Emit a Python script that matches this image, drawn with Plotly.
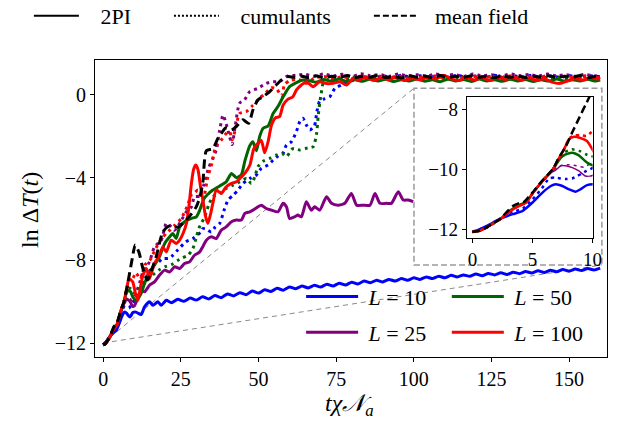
import plotly.graph_objects as go

# ---------------- data ----------------
# mean field (black dashed)
mf = [(0,-12.08),(0.6,-12.04),(1.2,-11.93),(1.7,-11.8),(2.3,-11.65),(2.9,-11.4),(3.4,-11.21),(3.9,-11.12),(4.3,-11.08),(5.0,-10.77),
      (5.8,-10.38),(6.7,-9.99),(7.2,-9.61),(7.8,-9.22),(8.3,-8.78),(8.9,-8.28),(9.4,-7.87),(10.3,-7.25),(11.5,-7.6),(12.8,-8.4),
      (14.2,-8.95),(15.5,-8.5),(17.0,-7.85),(19.2,-6.62),(21.0,-6.35),(22.4,-6.3),(24.0,-6.4),(25.7,-6.2),(27.0,-6.0),(28.4,-5.75),
      (30.0,-5.4),(31.2,-4.9),(32.1,-4.2),(33.2,-2.7),(35.3,-2.6),(36.9,-2.1),(38.0,-1.86),(39.4,-1.6),(41.3,-1.69),(42.8,-1.53),
      (45.0,-1.2),(46.8,-1.37),(48.2,-0.73),(49.8,-0.24),(51.5,-0.08),(53.6,0.16),(55.5,0.45),(57.4,0.73),(59.5,0.89),(61.5,0.85),
      (63.5,0.92),(66,0.84),(68.5,0.93),(71,0.82),(73.5,0.9),(76,0.85),(78.5,0.94),(81,0.83),(83.5,0.91),(86,0.86),(88.5,0.95),
      (91,0.84),(93.5,0.9),(96,0.82),(98.5,0.93),(101,0.86),(103.5,0.92),(106,0.83),(108.5,0.94),(111,0.85),(113.5,0.9),(116,0.84),
      (118.5,0.93),(121,0.86),(123.5,0.91),(126,0.83),(128.5,0.94),(131,0.85),(133.5,0.92),(136,0.84),(138.5,0.9),(141,0.86),
      (143.5,0.93),(146,0.84),(148.5,0.91),(151,0.85),(153.5,0.94),(156,0.83),(158.5,0.9),(160,0.87)]

# 2PI, L = 100 (red solid)
pi_100 = [(0,-12.08),(0.6,-12.04),(1.2,-11.93),(1.7,-11.8),(2.3,-11.66),(3.0,-11.43),(3.5,-11.3),(4.0,-11.2),(4.5,-11.1),(5.0,-10.8),
          (5.8,-10.4),(6.7,-10.0),(7.2,-9.63),(7.63,-9.33),(8.04,-9.0),(8.46,-8.91),(9.0,-8.95),(9.55,-9.05),(10.4,-9.6),(11.2,-9.93),
          (12.0,-9.3),(12.8,-8.72),(13.9,-8.39),(14.9,-8.88),(16.5,-8.15),(18.1,-7.75),(19.2,-7.35),(20.3,-7.59),(21.9,-7.02),(23.5,-7.18),
          (24.6,-7.02),(25.7,-6.7),(26.8,-6.21),(27.5,-5.5),(28.4,-4.28),(29.1,-3.6),(29.8,-3.39),(30.5,-3.6),(31.3,-4.4),(32.1,-5.08),
          (33.0,-5.9),(33.7,-6.21),(34.5,-5.8),(35.3,-5.24),(36.4,-4.6),(38.0,-4.76),(39.6,-4.44),(41.3,-4.28),(42.9,-4.2),(44.5,-3.96),
          (45.6,-3.79),(47.2,-3.4),(48.5,-2.6),(49.8,-2.34),(50.9,-2.2),(52.0,-2.8),(53.1,-2.25),(54.2,-1.45),(55.5,-1.1),(56.8,-1.05),
          (57.9,-0.5),(59.5,-0.2),(61.0,-0.1),(62.2,0.24),(63.8,0.48),(65.4,0.64),(67.6,0.4),(69.7,0.64),(71.9,0.55),(74.0,0.56),
          (76.2,0.64),(78.3,0.48),(80.5,0.81),(82,0.72),(84.5,0.85),(87,0.7),(89.5,0.82),(92,0.74),(94.5,0.86),(97,0.7),(99.5,0.8),
          (102,0.73),(104.5,0.86),(107,0.76),(109.5,0.95),(112,0.78),(114.5,0.7),(117,0.84),(119.5,0.72),(122,0.83),(124.5,0.7),
          (127,0.84),(129.5,0.75),(132,0.86),(134.5,0.72),(137,0.82),(139.5,0.7),(142,0.78),(144.5,0.62),(147,0.56),(149.5,0.68),
          (152,0.8),(154.5,0.72),(157,0.82),(160,0.76)]

# cumulants, L = 100 (red dotted)
cu_100 = [(0,-12.08),(1.2,-11.93),(2.3,-11.65),(3.0,-11.42),(3.5,-11.28),(4.0,-11.18),(4.5,-11.08),(5.0,-10.8),(5.8,-10.4),(6.7,-10.0),
          (7.2,-9.62),(7.7,-9.28),(8.1,-8.95),(8.5,-8.87),(9.0,-8.85),(9.5,-8.88),(10.5,-8.6),(12.0,-8.9),(13.5,-8.2),(15.0,-8.0),
          (17.0,-7.4),(19.0,-6.9),(21.0,-6.6),(23.0,-6.3),(25.0,-6.0),(27.0,-5.4),(28.5,-4.8),(29.4,-4.73),(30.5,-4.6),(32.1,-5.08),
          (33.7,-3.96),(35.0,-3.3),(35.9,-2.66),(36.9,-2.34),(38.0,-2.18),(39.6,-1.86),(40.7,-1.77),(41.5,-2.18),(42.8,-1.5),(43.9,-0.9),
          (46.1,-0.8),(48.2,-0.5),(50.4,-0.15),(52.0,0.05),(54.2,0.35),(55.8,0.3),(57.4,-0.05),(58.4,0.5),(60.0,0.7),(62.0,0.75),
          (63.3,0.73),(65.4,0.56),(68,0.82),(71,0.9),(74,0.78),(77,0.88),(80,0.8),(83,0.92),(86,0.8),(89,0.9),(92,0.82),(95,0.93),
          (98,0.8),(101,0.88),(104,0.82),(107,0.92),(110,0.8),(113,0.9),(116,0.83),(119,0.93),(122,0.8),(125,0.9),(128,0.82),
          (131,0.92),(134,0.8),(137,0.89),(140,0.82),(143,0.93),(146,0.8),(149,0.9),(152,0.83),(155,0.92),(158,0.81),(160,0.88)]

# 2PI, L = 50 (green solid)
pi_50 = [(0,-12.08),(0.6,-12.04),(1.2,-11.93),(1.7,-11.8),(2.3,-11.66),(3.0,-11.42),(3.5,-11.27),(4.0,-11.17),(4.5,-11.08),(5.0,-10.8),
         (5.8,-10.4),(6.7,-10.0),(7.36,-9.61),(7.77,-9.5),(8.32,-9.44),(8.87,-9.53),(9.55,-9.77),(10.6,-9.93),(12.2,-9.6),(13.3,-9.12),
         (14.9,-8.56),(16.5,-8.23),(18.1,-7.83),(19.8,-7.18),(21.4,-6.86),(22.4,-6.7),(23.5,-6.94),(24.6,-6.38),(26.2,-6.13),(28.4,-5.97),
         (30.0,-5.89),(31.0,-5.6),(32.5,-5.0),(33.7,-4.8),(35.3,-4.6),(37.5,-4.4),(39.6,-4.2),(41.3,-3.8),(42.9,-4.0),(44.5,-3.85),
         (45.6,-3.2),(47.2,-2.45),(48.2,-2.26),(49.3,-2.7),(50.4,-2.0),(51.5,-1.61),(53.1,-1.5),(54.7,-0.9),(56.3,-0.55),(57.9,-0.1),
         (60.0,0.4),(62.2,0.6),(64.3,0.72),(66,0.7),(68.5,0.62),(71,0.75),(73.5,0.66),(76,0.77),(78.5,0.65),(81,0.74),(83.5,0.66),
         (86,0.77),(88.5,0.68),(91,0.76),(93.5,0.65),(96,0.74),(98.5,0.67),(101,0.77),(103.5,0.66),(106,0.73),(108.5,0.64),(111,0.76),
         (113.5,0.68),(116,0.75),(118.5,0.65),(121,0.77),(123.5,0.67),(126,0.74),(128.5,0.66),(131,0.76),(133.5,0.68),(136,0.75),
         (138.5,0.65),(141,0.73),(143.5,0.67),(146,0.77),(148.5,0.66),(151,0.74),(153.5,0.68),(156,0.76),(158.5,0.67),(160,0.72)]

# cumulants, L = 50 (green dotted)
cu_50 = [(0,-12.08),(1.2,-11.93),(2.3,-11.66),(3.0,-11.42),(3.5,-11.27),(4.0,-11.17),(4.5,-11.08),(5.0,-10.8),(5.8,-10.4),(6.7,-10.0),
         (7.3,-9.6),(7.7,-9.42),(8.3,-9.33),(8.9,-9.38),(9.5,-9.5),(10.5,-9.6),(12.0,-9.3),(14.0,-9.0),(16.0,-8.7),(18.1,-8.45),
         (20.0,-8.3),(22.0,-8.2),(24.0,-8.0),(25.1,-7.91),(27.3,-7.75),(28.9,-7.42),(30.0,-6.86),(31.0,-6.38),(32.7,-5.89),(34.0,-5.3),
         (35.3,-4.92),(37.5,-4.76),(39.6,-4.52),(41.8,-4.36),(43.9,-4.2),(46.1,-4.04),(47.7,-4.28),(48.8,-3.96),(49.8,-3.47),(51.5,-3.2),
         (53.6,-3.07),(55.8,-2.9),(57.9,-2.85),(59.0,-2.98),(61.0,-2.6),(63.3,-2.66),(65.4,-2.58),(67.6,-2.5),(68.7,-1.86),(69.2,-1.05),
         (69.7,-0.4),(70.2,0.08),(70.8,0.56),(72,0.72),(75,0.85),(78,0.76),(81,0.88),(84,0.78),(87,0.86),(90,0.76),(93,0.88),(96,0.79),
         (99,0.86),(102,0.77),(105,0.89),(108,0.78),(111,0.86),(114,0.76),(117,0.88),(120,0.8),(123,0.87),(126,0.77),(129,0.88),
         (132,0.78),(135,0.86),(138,0.76),(141,0.88),(144,0.79),(147,0.86),(150,0.77),(153,0.88),(156,0.78),(160,0.85)]

# 2PI, L = 25 (purple solid)
pi_25 = [(0,-12.08),(0.6,-12.04),(1.2,-11.93),(1.7,-11.8),(2.3,-11.67),(3.0,-11.45),(3.5,-11.3),(4.0,-11.2),(4.5,-11.1),(5.0,-10.82),
         (5.8,-10.43),(6.5,-10.12),(6.94,-10.02),(7.36,-9.88),(7.77,-9.88),(8.32,-9.94),(8.87,-10.05),(9.42,-10.22),(10.0,-10.2),(10.8,-9.95),
         (12.2,-9.44),(13.3,-9.52),(14.9,-9.2),(16.5,-9.04),(18.1,-8.72),(19.8,-8.47),(21.4,-8.56),(23.0,-8.31),(24.6,-8.39),(26.2,-8.15),
         (27.8,-8.07),(29.4,-7.75),(31.0,-7.6),(32.2,-7.3),(33.2,-7.02),(34.8,-6.86),(36.4,-6.94),(38.0,-6.54),(39.6,-6.38),(41.3,-6.13),
         (42.9,-6.05),(44.5,-6.05),(45.6,-5.73),(47.2,-5.65),(48.2,-5.57),(49.8,-5.41),(50.9,-5.33),(52.5,-5.49),(54.2,-5.57),(56.3,-5.65),
         (57.9,-5.24),(59.0,-5.41),(60.0,-5.97),(61.7,-5.89),(62.7,-5.81),(63.8,-5.89),(65.4,-5.16),(67.0,-5.57),(68.1,-5.41),(69.7,-5.57),
         (71.9,-4.92),(73.5,-5.24),(75.6,-5.33),(77.8,-5.24),(79.9,-4.76),(81.6,-5.33),(83.7,-5.33),(85.9,-5.33),(87.5,-4.76),(89.1,-5.24),
         (91.2,-5.24),(92.8,-5.24),(95.0,-4.68),(96.6,-5.08),(98.2,-5.08),(99.8,-5.16)]

# cumulants, L = 25 (purple dotted)
cu_25 = [(0,-12.08),(1.2,-11.93),(2.3,-11.66),(3.0,-11.43),(3.5,-11.28),(4.0,-11.18),(4.5,-11.09),(5.0,-10.8),(5.8,-10.42),(6.5,-10.1),
         (7.0,-9.95),(7.5,-9.85),(8.0,-9.84),(8.7,-9.88),(9.3,-9.92),(10.5,-9.6),(11.7,-9.1),(12.8,-8.56),(14.9,-8.07),(16.5,-7.35),
         (18.7,-7.02),(20.3,-6.21),(21.4,-6.3),(23.0,-6.54),(25.0,-6.1),(27.0,-5.6),(28.4,-5.41),(29.4,-4.92),(31.0,-4.9),(32.5,-4.3),
         (34.0,-3.5),(35.2,-3.1),(36.4,-2.66),(37.5,-1.7),(38.6,-0.97),(39.6,-1.4),(40.5,-1.9),(41.5,-2.4),(42.5,-1.5),(43.9,-0.4),
         (45.5,-0.24),(47.2,0.16),(49.8,0.32),(52.5,0.56),(54.7,0.64),(56.8,0.64),(59.0,0.89),(62,0.95),(65,1.0),(68,0.9),(71,1.02),
         (74,0.92),(77,1.0),(80,0.9),(83,1.02),(86,0.93),(89,0.99),(92,0.9),(95,1.01),(98,0.92),(101,0.98),(104,0.9),(107,1.02),
         (110,0.93),(113,0.99),(116,0.9),(119,1.01),(122,0.92),(125,0.98),(128,0.9),(131,1.02),(134,0.93),(137,0.99),(140,0.91),
         (143,1.01),(146,0.92),(149,0.98),(152,0.9),(155,1.0),(158,0.92),(160,0.96)]

# 2PI, L = 10 (blue solid)
pi_10 = [(0,-12.08),(0.6,-12.0),(1.2,-11.88),(1.71,-11.77),(2.54,-11.6),(3.36,-11.49),(4.19,-11.38),(5.01,-11.1),(5.84,-10.77),(6.53,-10.55),
         (6.94,-10.49),(7.5,-10.55),(8.04,-10.66),(8.6,-10.74),(9.0,-10.66),(9.55,-10.52),(10.6,-10.5),(12.2,-10.62),(13.3,-10.25),(14.9,-10.0),
         (16.0,-10.17),(17.6,-10.0),(18.7,-10.17),(20.3,-9.93),(22,-10.05),(24,-9.88),(26,-9.98),(28,-9.82),(30,-9.92),(32,-9.76),
         (34,-9.86),(36,-9.7),(38,-9.8),(40,-9.62),(42,-9.72),(44,-9.56),(46,-9.66),(48,-9.48),(50,-9.58),(52,-9.42),(54,-9.5),
         (56,-9.35),(58,-9.44),(60,-9.28),(62,-9.37),(64,-9.24),(66,-9.33),(68,-9.2),(70,-9.29),(72,-9.15),(74,-9.24),(76,-9.1),
         (78,-9.19),(80,-9.05),(82,-9.14),(84,-9.0),(86,-9.08),(88,-8.96),(90,-9.04),(92,-8.92),(94,-9.0),(96,-8.88),(98,-8.96),
         (100,-8.84),(102,-8.92),(104,-8.8),(106,-8.88),(108,-8.76),(110,-8.84),(112,-8.72),(114,-8.8),(116,-8.7),(118,-8.77),
         (120,-8.66),(122,-8.74),(124,-8.63),(126,-8.7),(128,-8.6),(130,-8.68),(132,-8.57),(134,-8.64),(136,-8.54),(138,-8.61),
         (140,-8.5),(142,-8.58),(144,-8.47),(146,-8.55),(148,-8.44),(150,-8.52),(152,-8.42),(154,-8.49),(156,-8.39),(158,-8.46),(160,-8.37)]

# cumulants, L = 10 (blue dotted)
cu_10 = [(0,-12.08),(1.2,-11.9),(2.3,-11.66),(3.0,-11.45),(3.5,-11.4),(4.2,-11.3),(5.0,-11.0),(5.8,-10.62),(6.39,-10.3),(6.94,-10.27),
         (7.36,-10.3),(7.77,-10.32),(8.32,-10.3),(8.73,-10.22),(9.14,-10.13),(9.5,-10.05),(10.5,-9.85),(12.0,-9.3),(13.5,-8.9),(15.0,-8.5),
         (16.5,-8.2),(18.0,-8.05),(19.2,-7.91),(21.0,-7.9),(22.5,-7.75),(24.0,-7.5),(26.6,-7.1),(28.9,-6.94),(30.5,-6.75),(31.6,-6.62),
         (32.1,-6.46),(33.3,-6.5),(34.8,-6.62),(36.0,-6.4),(37.5,-6.21),(39.1,-5.49),(40.2,-5.08),(41.8,-4.85),(43.4,-4.6),(45.0,-4.28),
         (47.2,-4.04),(49.3,-3.87),(50.9,-3.55),(53.1,-3.39),(54.7,-3.15),(56.3,-2.95),(57.9,-2.8),(59.0,-2.42),(60.6,-2.26),(62.2,-1.77),
         (63.3,-1.29),(64.3,-1.13),(65.4,-1.45),(66.5,-1.69),(68.0,-1.5),(68.8,-0.8),(69.7,-0.3),(71.0,-0.2),(73.0,-0.08),(74.6,0.32),
         (76.7,0.48),(78.9,0.64),(81.6,0.75),(84,0.88),(87,0.8),(90,0.93),(93,0.84),(96,0.95),(99,0.85),(102,0.93),(105,0.83),
         (108,0.94),(111,0.86),(114,0.95),(117,0.84),(120,0.92),(123,0.85),(126,0.95),(129,0.84),(132,0.93),(135,0.86),(138,0.95),
         (141,0.84),(144,0.92),(147,0.85),(150,0.94),(153,0.84),(156,0.93),(160,0.88)]

x_ticks = [0, 25, 50, 75, 100, 125, 150]
y_ticks = [0, -4, -8, -12]
y_ticklabels = ["0", "\u22124", "\u22128", "\u221212"]
inset_x_ticks = [0, 5, 10]
inset_y_ticks = [-8, -10, -12]
inset_y_ticklabels = ["\u22128", "\u221210", "\u221212"]

FONT = "Liberation Serif"
BLUE, PURPLE, GREEN, RED = "#0000ff", "#800080", "#006400", "#ff0000"
DOT = "3px,4px"
DASH = "9px,5px"
NB = "\u00a0"


def xy(pairs):
    return [p[0] for p in pairs], [p[1] for p in pairs]


fig = go.Figure()

series = [
    (cu_10, BLUE, "dot"), (cu_25, PURPLE, "dot"), (cu_50, GREEN, "dot"), (cu_100, RED, "dot"),
    (pi_10, BLUE, "solid"), (pi_25, PURPLE, "solid"), (pi_50, GREEN, "solid"), (pi_100, RED, "solid"),
    (mf, "black", "dash"),
]
legend_for = {id(pi_10): ("legend2", NB + "<i>L</i> = 10"), id(pi_25): ("legend2", NB + "<i>L</i> = 25"),
              id(pi_50): ("legend3", NB + "<i>L</i> = 50"), id(pi_100): ("legend3", NB + "<i>L</i> = 100")}

for data, col, style in series:
    x, y = xy(data)
    dash = {"dot": DOT, "dash": DASH, "solid": "solid"}[style]
    kw = dict(showlegend=False)
    if id(data) in legend_for:
        lg, nm = legend_for[id(data)]
        kw = dict(showlegend=True, legend=lg, name=nm, legendgroup=nm)
    fig.add_trace(go.Scatter(x=x, y=y, mode="lines", xaxis="x", yaxis="y",
                             line=dict(color=col, width=3, dash=dash, shape="spline", smoothing=0.6),
                             hoverinfo="skip", **kw))

# inset traces (same data, zoomed axes)
for data, col, style in series:
    x, y = xy(data)
    dash = {"dot": "3px,4px", "dash": "8px,4px", "solid": "solid"}[style]
    w = 1.5 if col == PURPLE else 2.5
    fig.add_trace(go.Scatter(x=x, y=y, mode="lines", xaxis="x2", yaxis="y2", showlegend=False,
                             line=dict(color=col, width=w, dash=dash, shape="spline", smoothing=0.6),
                             hoverinfo="skip"))

# top legend proxies
for nm, dash in [(NB * 3 + "2PI" + NB * 6, "solid"), (NB * 3 + "cumulants" + NB * 6, "2px,2px"),
                 (NB * 2 + "mean field", "6px,3px")]:
    fig.add_trace(go.Scatter(x=[None], y=[None], mode="lines", name=nm, legend="legend",
                             line=dict(color="black", width=2, dash=dash), showlegend=True))

axis_common = dict(showline=True, mirror=True, linecolor="black", linewidth=1, ticks="outside",
                   ticklen=4, tickcolor="black", showgrid=False, zeroline=False, automargin=False,
                   tickfont=dict(family=FONT, size=20, color="black"))
inset_axis = {**axis_common, "tickfont": dict(family=FONT, size=19, color="black")}

fig.update_layout(
    width=642, height=421,
    margin=dict(l=95, r=35, t=60, b=64, autoexpand=False),
    paper_bgcolor="white", plot_bgcolor="white",
    font=dict(family=FONT, color="black"),
    xaxis=dict(domain=[0, 1], range=[-2.64, 162.2], tickvals=x_ticks, anchor="y", **axis_common),
    yaxis=dict(domain=[0, 1], range=[-12.67, 1.69], tickvals=y_ticks, ticktext=y_ticklabels, anchor="x", **axis_common),
    xaxis2=dict(domain=[0.726, 0.972], range=[-0.475, 10.02], tickvals=inset_x_ticks, anchor="y2", **inset_axis),
    yaxis2=dict(domain=[0.40, 0.876], range=[-12.29, -7.58], tickvals=inset_y_ticks, ticktext=inset_y_ticklabels,
                anchor="x2", **inset_axis),
    legend=dict(orientation="h", xref="container", yref="container", x=0.045, xanchor="left", y=0.962, yanchor="middle",
                font=dict(family=FONT, size=22), bgcolor="rgba(0,0,0,0)", itemwidth=45),
    legend2=dict(orientation="v", xref="container", yref="container", x=0.469, xanchor="left", y=0.345, yanchor="top",
                 font=dict(family=FONT, size=22), bgcolor="rgba(0,0,0,0)", itemwidth=52, tracegroupgap=4),
    legend3=dict(orientation="v", xref="container", yref="container", x=0.696, xanchor="left", y=0.345, yanchor="top",
                 font=dict(family=FONT, size=22), bgcolor="rgba(0,0,0,0)", itemwidth=52, tracegroupgap=4),
    annotations=[
        dict(text="ln Δ<i>T</i>(<i>t</i>)", xref="paper", yref="paper", x=-0.127, y=0.495, textangle=-90,
             showarrow=False, xanchor="center", yanchor="middle", font=dict(family=FONT, size=24)),
        dict(text="<i>tχ𝒩</i><sub><i>a</i></sub>", xref="paper", yref="paper", x=0.498, y=-0.162,
             showarrow=False, xanchor="center", yanchor="middle", font=dict(family=FONT, size=24)),
    ],
    shapes=[
        dict(type="rect", xref="paper", yref="paper", x0=0.623, x1=0.99, y0=0.31, y1=0.905,
             line=dict(color="#9a9a9a", width=1.5, dash="6px,3px"), layer="below"),
        dict(type="line", xref="paper", yref="paper", x0=0.0156, y0=0.047, x1=0.623, y1=0.905,
             line=dict(color="#8a8a8a", width=1, dash="5px,4px"), layer="below"),
        dict(type="line", xref="paper", yref="paper", x0=0.0156, y0=0.047, x1=0.99, y1=0.31,
             line=dict(color="#8a8a8a", width=1, dash="5px,4px"), layer="below"),
    ],
)

fig.write_html("out.html", config={"displayModeBar": False},
               post_script="document.body.style.margin='0px';")
